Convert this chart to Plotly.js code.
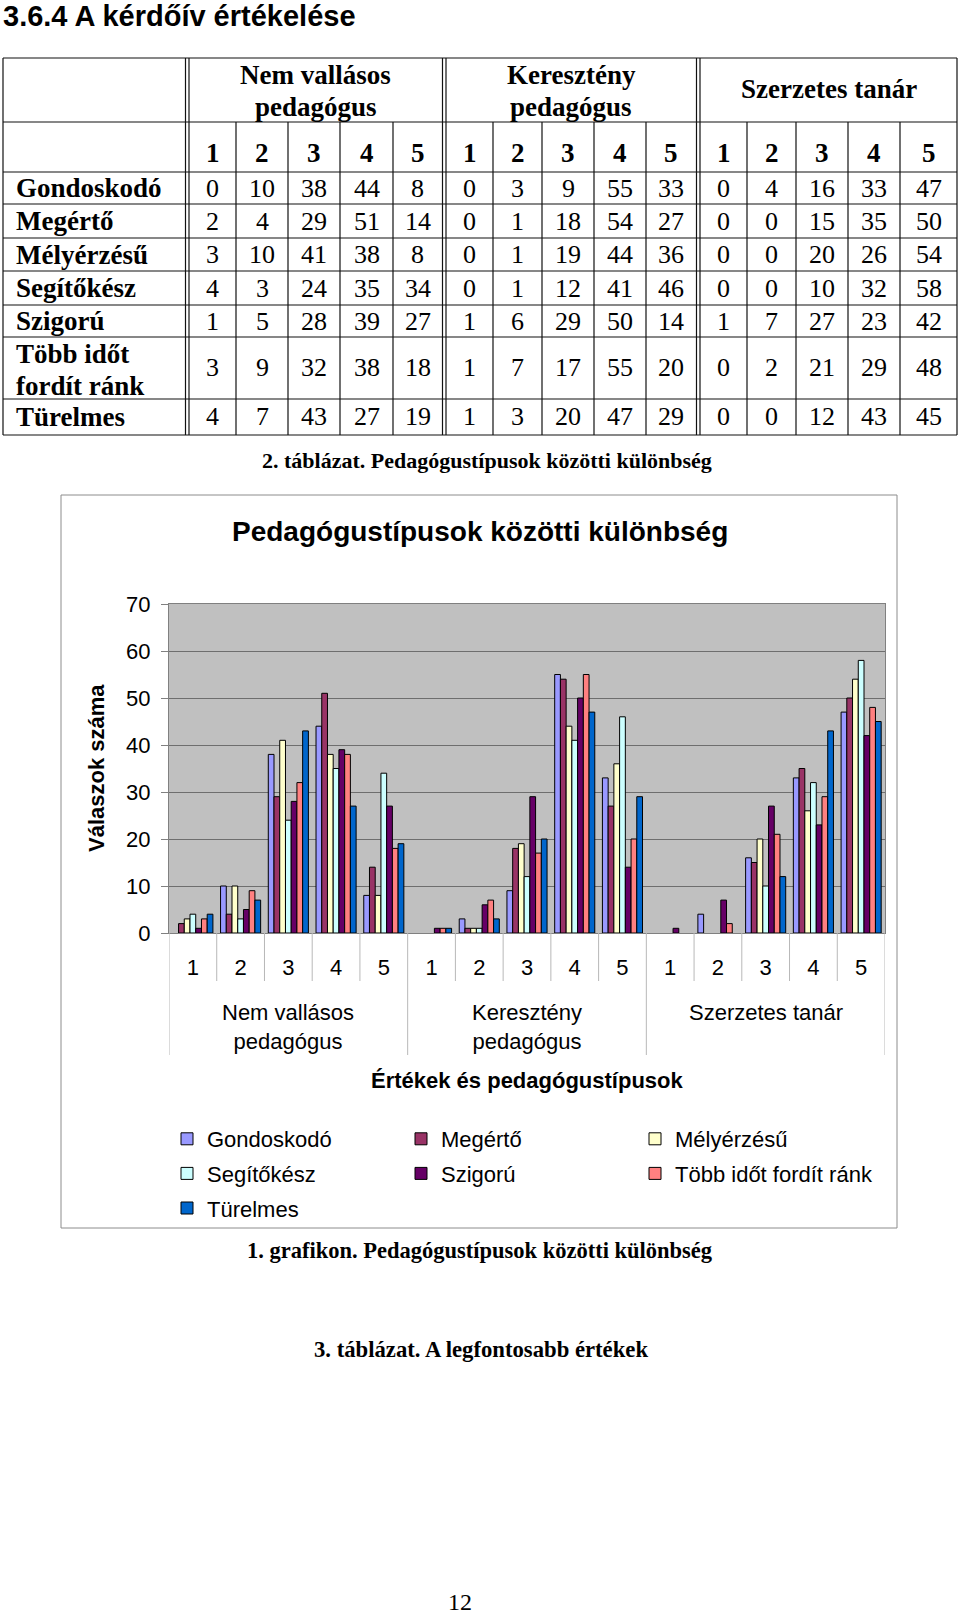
<!DOCTYPE html>
<html><head><meta charset="utf-8">
<script src="https://cdn.plot.ly/plotly-3.0.1.min.js"></script>
<style>html,body{margin:0;padding:0;background:#fff;} #page{width:960px;height:1617px;}</style>
</head><body><div id="page"></div>
<script>
// ---------------- DATA ----------------
const pageTitle = '3.6.4 A kérdőív értékelése';
const groupLabels = ['Nem vallásos<br>pedagógus', 'Keresztény<br>pedagógus', 'Szerzetes tanár'];
const valueLabels = ['1', '2', '3', '4', '5'];
const seriesNames = ['Gondoskodó', 'Megértő', 'Mélyérzésű', 'Segítőkész', 'Szigorú', 'Több időt fordít ránk', 'Türelmes'];
const tableRowLabels = ['Gondoskodó', 'Megértő', 'Mélyérzésű', 'Segítőkész', 'Szigorú', 'Több időt<br>fordít ránk', 'Türelmes'];
// values: Nem vallásos 1..5, Keresztény 1..5, Szerzetes 1..5
const gondoskodo = [0, 10, 38, 44, 8, 0, 3, 9, 55, 33, 0, 4, 16, 33, 47];
const megerto    = [2, 4, 29, 51, 14, 0, 1, 18, 54, 27, 0, 0, 15, 35, 50];
const melyerzesu = [3, 10, 41, 38, 8, 0, 1, 19, 44, 36, 0, 0, 20, 26, 54];
const segitokesz = [4, 3, 24, 35, 34, 0, 1, 12, 41, 46, 0, 0, 10, 32, 58];
const szigoru    = [1, 5, 28, 39, 27, 1, 6, 29, 50, 14, 1, 7, 27, 23, 42];
const tobbIdot   = [3, 9, 32, 38, 18, 1, 7, 17, 55, 20, 0, 2, 21, 29, 48];
const turelmes   = [4, 7, 43, 27, 19, 1, 3, 20, 47, 29, 0, 0, 12, 43, 45];
const tableCaption = '2. táblázat. Pedagógustípusok közötti különbség';
const chartTitle = 'Pedagógustípusok közötti különbség';
const yTitle = 'Válaszok száma';
const xTitle = 'Értékek és pedagógustípusok';
const chartCaption = '1. grafikon. Pedagógustípusok közötti különbség';
const nextCaption = '3. táblázat. A legfontosabb értékek';
const pageNumber = '12';

// ---------------- STYLE / LAYOUT ----------------
const seriesData = [gondoskodo, megerto, melyerzesu, segitokesz, szigoru, tobbIdot, turelmes];
const colors = ['#9999FF', '#993366', '#FFFFCC', '#CCFFFF', '#660066', '#FF8080', '#0066CC'];
const legendOf = ['legend', 'legend2', 'legend3', 'legend', 'legend2', 'legend3', 'legend'];
const W = 960, H = 1617;
const px = x => x / W;
const py = y => 1 - y / H;
const SANS = 'Liberation Sans, Arial, sans-serif';
const SERIF = 'Liberation Serif, Times New Roman, serif';

// plot area in pixels
const PA = {l: 169, r: 885, t: 604, b: 933};

const annotations = [];
const shapes = [];
function ann(text, x, y, o) {
  o = o || {};
  annotations.push(Object.assign({
    text: text, x: px(x), y: py(y), xref: 'paper', yref: 'paper',
    showarrow: false, xanchor: 'center', yanchor: 'middle',
    font: {family: SANS, size: 22, color: '#000'}
  }, o));
}
function line(x0, y0, x1, y1, color, width, xref) {
  shapes.push({type: 'line', xref: xref || 'paper', yref: 'paper',
    x0: xref ? x0 : px(x0), x1: xref ? x1 : px(x1), y0: py(y0), y1: py(y1),
    line: {color: color, width: width}});
}

// page title
ann('<b>' + pageTitle + '</b>', 1, 16, {xanchor: 'left', font: {family: SANS, size: 29, color: '#000'}});

// ---------------- TABLE ----------------
const T = {
  left: 3, right: 957, top: 58, hdrSplit: 122,
  rows: [172, 204, 238, 271, 305, 337, 399, 435],
  dbl: [[185.5, 189], [442.5, 446], [696.5, 700]],
  cols: [[189, 236, 288, 340, 393, 442.5], [446, 493, 542, 594, 646, 696.5], [700, 747, 796, 848, 900, 957]]
};
const LC = '#111', LW = 1.2;
[T.top, T.hdrSplit].concat(T.rows).forEach(y => line(T.left, y, T.right, y, LC, LW));
const tBottom = T.rows[T.rows.length - 1];
[T.left, T.right].forEach(x => line(x, T.top, x, tBottom, LC, LW));
T.dbl.forEach(d => d.forEach(x => line(x, T.top, x, tBottom, LC, LW)));
T.cols.forEach(c => c.slice(1, 5).forEach(x => line(x, T.hdrSplit, x, tBottom, LC, LW)));

const boldSerif = {family: SERIF, size: 27, color: '#000'};
const regSerif = {family: SERIF, size: 26, color: '#000'};
// group headers
const hdrLineY = [[75, 107], [75, 107], [89]];
groupLabels.forEach((g, gi) => {
  const c = T.cols[gi];
  const cx = (c[0] + c[5]) / 2;
  g.split('<br>').forEach((part, li) => ann('<b>' + part + '</b>', cx, hdrLineY[gi][li], {font: boldSerif}));
  valueLabels.forEach((v, vi) => ann('<b>' + v + '</b>', (c[vi] + c[vi + 1]) / 2, 153, {font: boldSerif}));
});
// rows
const rowCenters = [188, 221, 254.5, 288, 321, 368, 417];
tableRowLabels.forEach((lab, ri) => {
  const parts = lab.split('<br>');
  if (parts.length === 1) {
    ann('<b>' + lab + '</b>', 14, rowCenters[ri], {xanchor: 'left', font: boldSerif});
  } else {
    const ys = [354, 386];
    parts.forEach((p, k) => ann('<b>' + p + '</b>', 14, ys[k], {xanchor: 'left', font: boldSerif}));
  }
  seriesData[ri].forEach((val, k) => {
    const gi = Math.floor(k / valueLabels.length), vi = k % valueLabels.length;
    const c = T.cols[gi];
    ann(String(val), (c[vi] + c[vi + 1]) / 2, rowCenters[ri], {font: regSerif});
  });
});
ann('<b>' + tableCaption + '</b>', 487, 461, {font: {family: SERIF, size: 22, color: '#000'}});

// ---------------- CHART ----------------
// chart frame
shapes.push({type: 'rect', xref: 'paper', yref: 'paper', x0: px(61), x1: px(897), y0: py(495), y1: py(1228),
  line: {color: '#8c8c8c', width: 1}, fillcolor: 'rgba(0,0,0,0)', layer: 'below'});
ann('<b>' + chartTitle + '</b>', 480, 532, {font: {family: SANS, size: 28, color: '#000'}});
ann('<b>' + yTitle + '</b>', 96, 768, {textangle: -90, font: {family: SANS, size: 22, color: '#000'}});

const nVal = valueLabels.length;
const xIdx = [], xTickText = [];
groupLabels.forEach((g, gi) => valueLabels.forEach((v, vi) => { xIdx.push(gi * nVal + vi); xTickText.push(v); }));
const nCat = xIdx.length;

// category separators below the axis
for (let i = 0; i <= nCat; i++) {
  const isGroup = i % nVal === 0;
  line(i - 0.5, PA.b, i - 0.5, isGroup ? 1055 : 981, '#b8b8b8', 1, 'x');
}
// group labels
groupLabels.forEach((g, gi) => {
  annotations.push({text: g, xref: 'x', yref: 'paper', x: gi * nVal + (nVal - 1) / 2, y: py(998),
    xanchor: 'center', yanchor: 'top', showarrow: false, font: {family: SANS, size: 22, color: '#000'}});
});
annotations.push({text: '<b>' + xTitle + '</b>', xref: 'x', yref: 'paper', x: (nCat - 1) / 2, y: py(1080),
  xanchor: 'center', yanchor: 'middle', showarrow: false, font: {family: SANS, size: 22, color: '#000'}});

// captions below
ann('<b>' + chartCaption + '</b>', 480, 1250, {font: {family: SERIF, size: 22.5, color: '#000'}});
ann('<b>' + nextCaption + '</b>', 481, 1349, {font: {family: SERIF, size: 22.7, color: '#000'}});
ann(pageNumber, 460, 1602, {font: {family: SERIF, size: 24, color: '#000'}});

// zero answers are not drawn as bars (as in the original Excel chart)
const traces = seriesData.map((d, i) => ({
  type: 'bar', name: seriesNames[i], x: xIdx, y: d.map(v => (v === 0 ? null : v)),
  marker: {color: colors[i], line: {color: '#000', width: 1}},
  legend: legendOf[i], legendgroup: 'g' + i, hoverinfo: 'skip'
}));

const legendBase = {
  xanchor: 'left', yanchor: 'top', y: py(1118), bgcolor: 'rgba(0,0,0,0)', borderwidth: 0,
  font: {family: SANS, size: 22, color: '#000'}, tracegroupgap: 3, orientation: 'v'
};

const layout = {
  width: W, height: H,
  margin: {l: 0, r: 0, t: 0, b: 0, pad: 0},
  paper_bgcolor: '#fff', plot_bgcolor: '#c0c0c0',
  showlegend: true,
  barmode: 'group', bargap: 0.16, bargroupgap: 0,
  xaxis: {
    domain: [px(PA.l), px(PA.r)], range: [-0.5, nCat - 0.5],
    tickmode: 'array', tickvals: xIdx, ticktext: xTickText,
    ticks: '', showgrid: false, zeroline: false,
    showline: true, linecolor: '#808080', linewidth: 1, mirror: true,
    tickfont: {family: SANS, size: 22, color: '#000'}, ticklabelstandoff: 15, fixedrange: true
  },
  yaxis: {
    domain: [py(PA.b), py(PA.t)], range: [0, 70], dtick: 10, tick0: 0,
    ticks: 'outside', ticklen: 7, tickcolor: '#808080',
    showgrid: true, gridcolor: '#6e6e6e', gridwidth: 1, zeroline: false,
    showline: true, linecolor: '#808080', linewidth: 1, mirror: true,
    tickfont: {family: SANS, size: 22, color: '#000'}, ticklabelstandoff: 6, fixedrange: true
  },
  legend: Object.assign({}, legendBase, {x: px(167)}),
  legend2: Object.assign({}, legendBase, {x: px(401)}),
  legend3: Object.assign({}, legendBase, {x: px(635)}),
  annotations: annotations,
  shapes: shapes
};

Plotly.newPlot('page', traces, layout, {staticPlot: true, displayModeBar: false});
</script>
</body></html>
